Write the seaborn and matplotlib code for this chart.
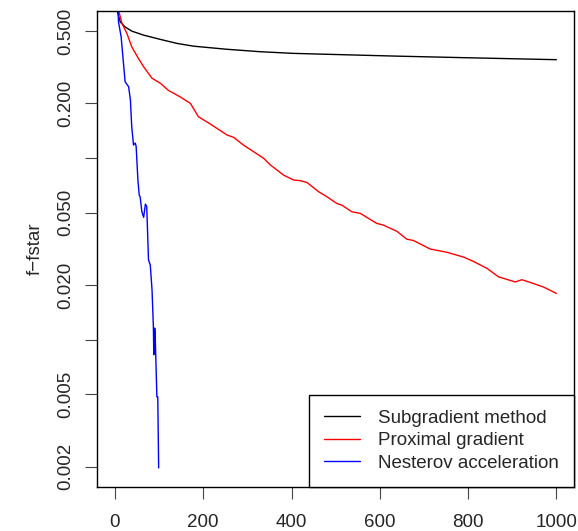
import numpy as np
import pandas as pd
import matplotlib
matplotlib.use("Agg")
import matplotlib.pyplot as plt
import seaborn as sns

# values (log scale y)
sub_iter = [1, 4, 12, 23, 38, 65, 103, 140, 178, 254, 329, 404, 510, 639, 790, 1000]
sub_val = [0.95, 0.66, 0.562, 0.527, 0.500, 0.475, 0.450, 0.428, 0.413, 0.397,
           0.385, 0.377, 0.371, 0.364, 0.357, 0.348]

prox_iter = [1, 8, 16, 27, 38, 53, 65, 84, 103, 121, 148, 171, 189, 216, 254, 269,
             291, 337, 352, 382, 405, 420, 435, 461, 480, 503, 514, 537, 556, 593,
             608, 639, 661, 676, 714, 752, 790, 812, 843, 869, 907, 922, 948, 971, 1000]
prox_val = [0.95, 0.653, 0.551, 0.486, 0.410, 0.354, 0.318, 0.275, 0.258, 0.236,
            0.217, 0.200, 0.169, 0.154, 0.134, 0.130, 0.118, 0.0997, 0.0917, 0.0806,
            0.0757, 0.0751, 0.0734, 0.0654, 0.0613, 0.0562, 0.0551, 0.0506, 0.0496,
            0.0437, 0.0428, 0.0395, 0.0358, 0.0352, 0.0316, 0.0303, 0.0285, 0.0270,
            0.0247, 0.0222, 0.0208, 0.0214, 0.0204, 0.0195, 0.0180]

nest_iter = [1, 7, 8, 14, 18, 23, 31, 35, 38, 42, 46, 48, 52, 55, 57, 61, 65, 69,
             72, 76, 80, 84, 87, 88, 90, 91, 95, 97, 99]
nest_val = [0.95, 0.653, 0.562, 0.465, 0.361, 0.263, 0.247, 0.209, 0.149, 0.118,
            0.121, 0.116, 0.0756, 0.0625, 0.0613, 0.0506, 0.0472, 0.0558, 0.0541,
            0.0275, 0.0258, 0.0188, 0.0119, 0.00827, 0.0116, 0.0109, 0.00485,
            0.00485, 0.00197]

labels = ["Subgradient method", "Proximal gradient", "Nesterov acceleration"]
colors = ["black", "red", "blue"]
y_ticks = [0.5, 0.2, 0.1, 0.05, 0.02, 0.01, 0.005, 0.002]
y_ticklabels = ["0.500", "0.200", "", "0.050", "0.020", "", "0.005", "0.002"]
x_ticks = [0, 200, 400, 600, 800, 1000]

df = pd.concat([
    pd.DataFrame({"k": sub_iter, "f": sub_val, "method": labels[0]}),
    pd.DataFrame({"k": prox_iter, "f": prox_val, "method": labels[1]}),
    pd.DataFrame({"k": nest_iter, "f": nest_val, "method": labels[2]}),
])

sns.set_style("white")
plt.rcParams["font.family"] = ["Liberation Sans", "DejaVu Sans"]
fs = 13.5

fig = plt.figure(figsize=(5.78, 5.31), dpi=100)
ax = fig.add_axes([97.3 / 578, 1 - 487 / 531, (574 - 97.3) / 578, (487 - 11) / 531])

sns.lineplot(data=df, x="k", y="f", hue="method", palette=colors,
             estimator=None, sort=False, linewidth=1.0, ax=ax, legend=False)

ax.set_yscale("log")
ax.set_xlim(-40, 1040)
ax.set_ylim(0.001547, 0.645)
ax.set_yticks(y_ticks)
ax.set_yticklabels(y_ticklabels, rotation=90, va="center")
ax.minorticks_off()
ax.set_xticks(x_ticks)
ax.set_xticklabels([str(t) for t in x_ticks])
ax.tick_params(axis="both", direction="out", length=8.5, width=0.8,
               color="#444444", labelsize=fs, left=True, bottom=True)
ax.tick_params(axis="y", pad=8)
ax.tick_params(axis="x", pad=11)
ax.set_xlabel("")
ax.set_ylabel("f\u2212fstar", fontsize=fs, labelpad=9.5)
for s in ax.spines.values():
    s.set_color("black")
    s.set_linewidth(1.0)

handles = [plt.Line2D([], [], color=c, lw=1.0) for c in colors]
leg = ax.legend(handles, labels, loc="lower right", bbox_to_anchor=(1, 0),
                borderaxespad=0, fontsize=fs, frameon=True, fancybox=False,
                handlelength=1.92, handletextpad=0.96, labelspacing=0.29,
                borderpad=0.8)
leg.get_frame().set_edgecolor("black")
leg.get_frame().set_linewidth(1.0)
leg.get_frame().set_alpha(1)

fig.savefig("out.png", dpi=100)
